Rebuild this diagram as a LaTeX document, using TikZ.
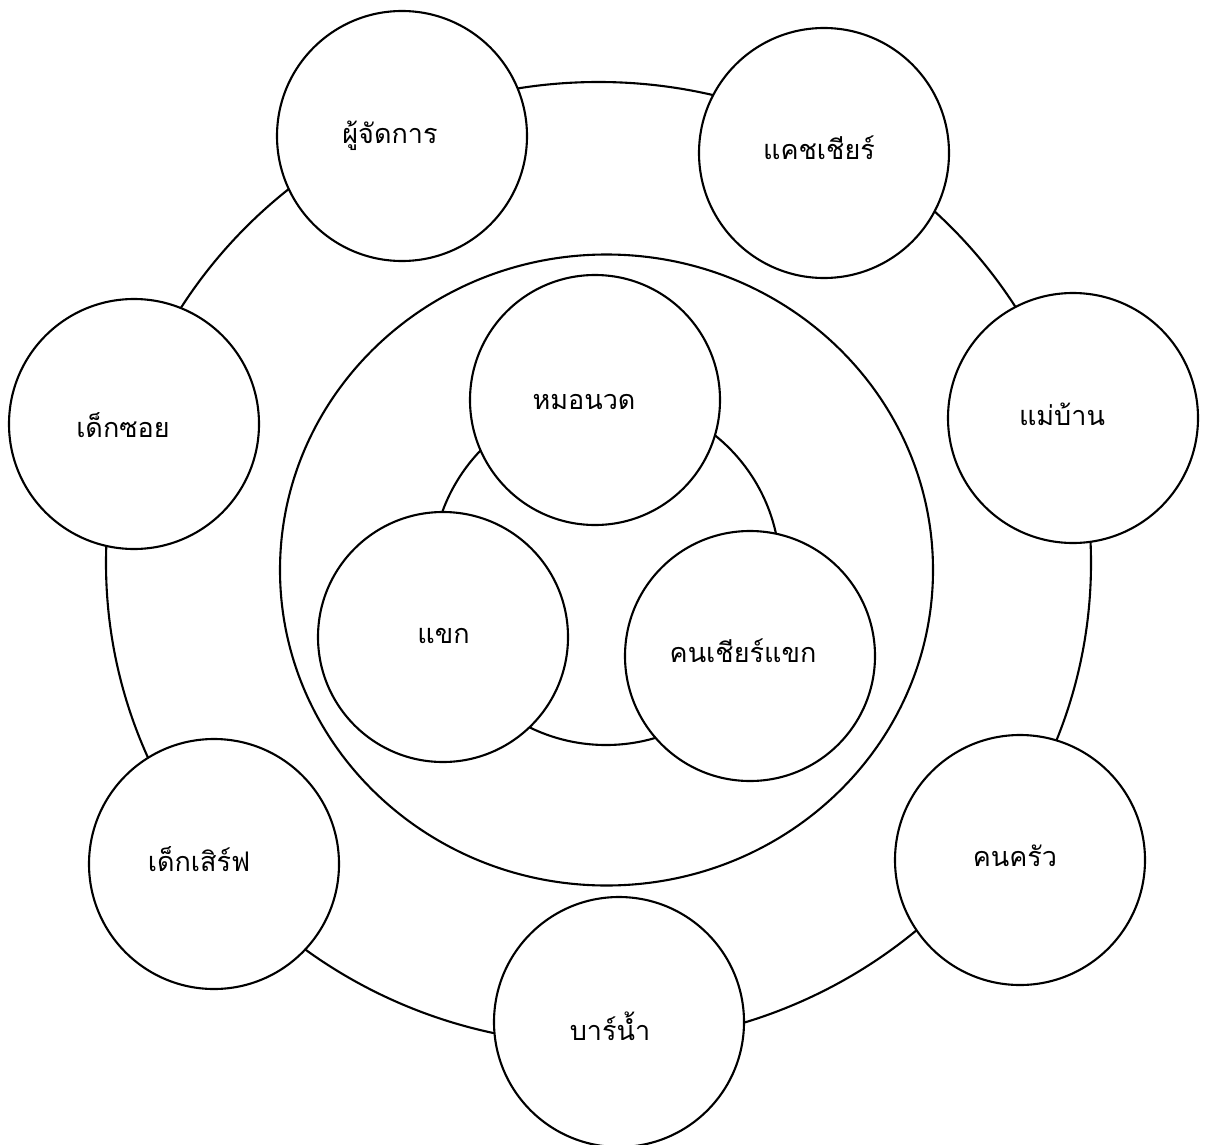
\documentclass[tikz,border=0pt]{standalone}
\usepackage{fontspec}
\newfontfamily\thaifont[Script=Thai]{Loma}
\usetikzlibrary{shapes.geometric}
\begin{document}
\begin{tikzpicture}[x=1pt,y=-1pt,
  ring/.style={draw=black,line width=2.1pt},
  role/.style={circle,draw=black,line width=2.1pt,fill=white,minimum size=250pt,inner sep=0pt},
  lbl/.style={anchor=base,font=\thaifont\fontsize{27}{31}\selectfont,inner sep=0pt}]
\useasboundingbox (0,0) rectangle (1207,1145);
\fill[white] (0,0) rectangle (1207,1145);
% rings
\draw[ring] (598.5,563) ellipse [x radius=492.5, y radius=481];
\draw[ring] (606.5,570) ellipse [x radius=326.5, y radius=315.5];
\draw[ring] (606,571) circle [radius=174];
% outer ring circles
\node[role] (mgr) at (402,136) {};
\node[role] (cash) at (824,153) {};
\node[role] (maid) at (1073,418) {};
\node[role] (cook) at (1020,860) {};
\node[role] (bar) at (619,1022) {};
\node[role] (serve) at (214,864) {};
\node[role] (soi) at (134,424) {};
% inner circles
\node[role] (mass) at (595,400) {};
\node[role] (guest) at (443,637) {};
\node[role] (cheer) at (750,656) {};
% labels
\node[lbl] (tmgr) at (390,143.5) {ผู้จัดการ};
\node[lbl] (tcash) at (819,160) {แคชเชียร์};
\node[lbl] (tmaid) at (1062,425.5) {แม่บ้าน};
\node[lbl] (tcook) at (1015,866) {คนครัว};
\node[lbl] (tbar) at (610,1040) {บาร์น้ำ};
\node[lbl] (tserve) at (199,871) {เด็กเสิร์ฟ};
\node[lbl] (tsoi) at (123,437) {เด็กซอย};
\node[lbl] (tmass) at (584,409) {หมอนวด};
\node[lbl] (tguest) at (443.5,643) {แขก};
\node[lbl] (tcheer) at (743,662) {คนเชียร์แขก};
\end{tikzpicture}
\end{document}
